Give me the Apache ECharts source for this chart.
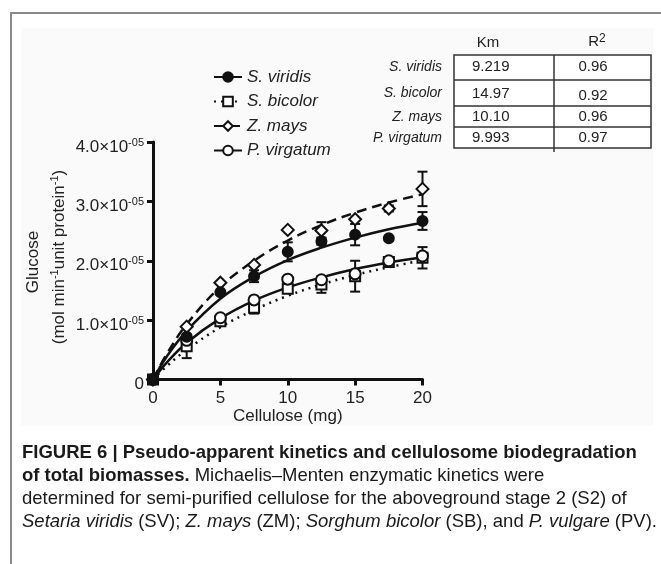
<!DOCTYPE html>
<html>
<head>
<meta charset="utf-8">
<script src="https://cdn.jsdelivr.net/npm/echarts@6/dist/echarts.min.js"></script>
<style>
html, body { margin: 0; padding: 0; background: #fff; }
#chart { width: 661px; height: 564px; }
</style>
</head>
<body>
<div id="chart"></div>
<script>
// glucose values are in units of 1e-5 (the axis labels add the x10^-05)
var FONT = 'Liberation Sans, Arial, sans-serif';
var names = ['S. viridis', 'S. bicolor', 'Z. mays', 'P. virgatum'];

// measured points
var cellulose = [0, 2.5, 5, 7.5, 10, 12.5, 15, 17.5, 20];
var svPts = [0, 0.72, 1.47, 1.74, 2.15, 2.33, 2.44, 2.38, 2.67];
var sbPts = [0, 0.56, 0.98, 1.21, 1.53, 1.60, 1.74, 1.98, 2.05];
var zmPts = [0, 0.89, 1.63, 1.93, 2.52, 2.51, 2.70, 2.88, 3.21];
var pvPts = [0, 0.66, 1.04, 1.34, 1.69, 1.68, 1.78, 2.00, 2.08];
var svErr = [0, 0, 0, 0.10, 0.16, 0.06, 0.18, 0, 0.15];
var sbErr = [0, 0.20, 0, 0.10, 0, 0.14, 0.26, 0, 0.18];
var zmErr = [0, 0, 0, 0, 0, 0.14, 0, 0.05, 0.29];
var pvErr = [0, 0, 0, 0, 0, 0, 0, 0, 0];

// fitted curves
var fitX = [0, 1, 2.5, 5, 7.5, 10, 12.5, 15, 17.5, 20];
var svFit = [0, 0.38, 0.82, 1.36, 1.73, 2.01, 2.22, 2.39, 2.53, 2.64];
var sbFit = [0, 0.22, 0.50, 0.88, 1.17, 1.41, 1.60, 1.76, 1.89, 2.01];
var zmFit = [0, 0.42, 0.93, 1.56, 2.00, 2.34, 2.60, 2.81, 2.98, 3.12];
var pvFit = [0, 0.28, 0.62, 1.03, 1.33, 1.55, 1.72, 1.86, 1.97, 2.06];

// inset table
var kmVals = ['9.219', '14.97', '10.10', '9.993'];
var r2Vals = ['0.96', '0.92', '0.96', '0.97'];

var myChart = echarts.init(document.getElementById('chart'));

function pairs(xs, ys) {
	var out = [];
	for (var i = 0; i < xs.length; i++) out.push([xs[i], ys[i]]);
	return out;
}
function errData(ys, es) {
	var out = [];
	for (var i = 0; i < ys.length; i++) {
		if (es[i] > 0) out.push([cellulose[i], ys[i] - es[i], ys[i] + es[i]]);
	}
	return out;
}
function errSeries(ys, es) {
	return {
		type: 'custom',
		silent: true,
		z: 3,
		encode: { x: 0, y: [1, 2] },
		data: errData(ys, es),
		renderItem: function(params, api) {
			var x = api.value(0);
			var p1 = api.coord([x, api.value(1)]);
			var p2 = api.coord([x, api.value(2)]);
			var w = 5;
			var st = { stroke: '#111', lineWidth: 2 };
			return {
				type: 'group',
				children: [
					{ type: 'line', shape: { x1: p1[0], y1: p1[1], x2: p2[0], y2: p2[1] }, style: st },
					{ type: 'line', shape: { x1: p1[0] - w, y1: p1[1], x2: p1[0] + w, y2: p1[1] }, style: st },
					{ type: 'line', shape: { x1: p2[0] - w, y1: p2[1], x2: p2[0] + w, y2: p2[1] }, style: st }
				]
			};
		}
	};
}
function fitSeries(name, ys, symbol, filled, dash) {
	return {
		name: name,
		type: 'line',
		smooth: 0.4,
		showSymbol: false,
		symbol: symbol,
		symbolSize: 10,
		z: 2,
		lineStyle: { color: '#111', width: 2.5, type: dash },
		itemStyle: { color: filled ? '#111' : '#fff', borderColor: '#111', borderWidth: 2 },
		data: pairs(fitX, ys)
	};
}
function ptSeries(name, ys, symbol, size, filled) {
	return {
		name: name + ' pts',
		type: 'scatter',
		symbol: symbol,
		symbolSize: size,
		z: 4,
		itemStyle: { color: filled ? '#111' : '#fff', borderColor: '#111', borderWidth: 2, opacity: 1 },
		data: pairs(cellulose, ys)
	};
}

// graphic: frame, background, axis name, inset table, caption
var graphics = [
	{ type: 'rect', z: -10, shape: { x: 21, y: 28, width: 632, height: 398 }, style: { fill: '#fafafa' } },
	{ type: 'rect', z: -9, shape: { x: 11, y: 13, width: 700, height: 600 }, style: { fill: null, stroke: '#8a8a8a', lineWidth: 2 } },
	{ type: 'text', x: 33, y: 262, rotation: Math.PI / 2,
		style: { text: 'Glucose', font: '17px ' + FONT, fill: '#222', align: 'center', verticalAlign: 'middle' } },
	{ type: 'text', x: 59, y: 257, rotation: Math.PI / 2,
		style: {
			text: '{a|(mol min}{s|-1}{a|unit protein}{s|-1}{a|)}',
			align: 'center', verticalAlign: 'middle', fill: '#222',
			rich: {
				a: { fontSize: 17, fontFamily: FONT, lineHeight: 20, fill: '#222' },
				s: { fontSize: 11, fontFamily: FONT, lineHeight: 11, verticalAlign: 'top', fill: '#222' }
			}
		} }
];

// inset table
var tTop = 55, tLeft = 454, tRight = 651, tDiv = 554;
var rowLines = [80, 106, 127];
var rowBottom = 148;
var rowY = [67, 93, 117, 138];
graphics.push({ type: 'rect', shape: { x: tLeft, y: tTop, width: tRight - tLeft, height: rowBottom - tTop }, style: { fill: '#fff', stroke: '#333', lineWidth: 1.5 } });
graphics.push({ type: 'line', shape: { x1: tDiv, y1: tTop, x2: tDiv, y2: rowBottom + 4 }, style: { stroke: '#333', lineWidth: 1.5 } });
for (var i = 0; i < rowLines.length; i++) {
	graphics.push({ type: 'line', shape: { x1: tLeft, y1: rowLines[i], x2: tRight, y2: rowLines[i] }, style: { stroke: '#333', lineWidth: 1.5 } });
}
graphics.push({ type: 'text', x: 488, y: 43, style: { text: 'Km', font: '15px ' + FONT, fill: '#222', align: 'center', verticalAlign: 'middle' } });
graphics.push({ type: 'text', x: 597, y: 42, style: {
	text: '{a|R}{s|2}', align: 'center', verticalAlign: 'middle',
	rich: {
		a: { fontSize: 15, fontFamily: FONT, lineHeight: 18, fill: '#222' },
		s: { fontSize: 12, fontFamily: FONT, lineHeight: 12, verticalAlign: 'top', fill: '#222' }
	} } });
for (var i = 0; i < names.length; i++) {
	graphics.push({ type: 'text', x: 442, y: rowY[i], style: { text: names[i], font: 'italic 14px ' + FONT, fill: '#222', align: 'right', verticalAlign: 'middle' } });
	graphics.push({ type: 'text', x: 472, y: rowY[i] + (i == 1 ? 1 : 0), style: { text: kmVals[i], font: '15px ' + FONT, fill: '#222', align: 'left', verticalAlign: 'middle' } });
	graphics.push({ type: 'text', x: 593, y: rowY[i] + (i == 1 ? 3 : 0), style: { text: r2Vals[i], font: '15px ' + FONT, fill: '#222', align: 'center', verticalAlign: 'middle' } });
}

// caption
var capRich = {
	b: { fontSize: 18.5, fontFamily: FONT, fontWeight: 'bold', fill: '#1a1a1a' },
	r: { fontSize: 18.5, fontFamily: FONT, fill: '#1a1a1a' },
	i: { fontSize: 18.5, fontFamily: FONT, fontStyle: 'italic', fill: '#1a1a1a' }
};
var capLines = [
	'{b|FIGURE 6 | Pseudo-apparent kinetics and cellulosome biodegradation}',
	'{b|of total biomasses.}{r| Michaelis\u2013Menten enzymatic kinetics were}',
	'{r|determined for semi-purified cellulose for the aboveground stage 2 (S2) of}',
	'{i|Setaria viridis}{r| (SV); }{i|Z. mays}{r| (ZM); }{i|Sorghum bicolor}{r| (SB), and }{i|P. vulgare}{r| (PV).}'
];
var capY = [453, 476, 499, 522];
for (var i = 0; i < capLines.length; i++) {
	graphics.push({ type: 'text', x: 22, y: capY[i], style: { text: capLines[i], rich: capRich, align: 'left', verticalAlign: 'middle' } });
}

var option = {
	backgroundColor: '#fff',
	animation: false,
	textStyle: { fontFamily: FONT },
	grid: { left: 153, right: 238.5, top: 142, bottom: 184.5, outerBoundsMode: 'none' },
	legend: {
		data: names,
		orient: 'vertical',
		left: 208,
		top: 62,
		itemWidth: 28,
		itemHeight: 12,
		itemGap: 4.5,
		selectedMode: false,
		textStyle: { fontSize: 17, fontStyle: 'italic', color: '#222', lineHeight: 20 }
	},
	xAxis: {
		type: 'value',
		min: 0, max: 20, interval: 5,
		name: 'Cellulose (mg)',
		nameLocation: 'middle',
		nameGap: 28,
		nameTextStyle: { fontSize: 17, color: '#222' },
		axisLine: { lineStyle: { color: '#111', width: 3 } },
		axisTick: { length: 6, lineStyle: { color: '#111', width: 3 } },
		axisLabel: { fontSize: 17, color: '#222', margin: 10 },
		splitLine: { show: false }
	},
	yAxis: {
		type: 'value',
		min: 0, max: 4, interval: 1,
		axisLine: { show: true, lineStyle: { color: '#111', width: 3 } },
		axisTick: { show: true, length: 6, lineStyle: { color: '#111', width: 3 } },
		axisLabel: {
			margin: 9,
			padding: [10, 0, 0, 0],
			formatter: function(v) {
				if (v === 0) return '{z|0}';
				return '{a|' + v.toFixed(1) + '\u00d710}{s|-05}';
			},
			rich: {
				a: { fontSize: 17, lineHeight: 20, color: '#222' },
				s: { fontSize: 11, lineHeight: 11, verticalAlign: 'top', color: '#222' },
				z: { fontSize: 17, lineHeight: 20, color: '#222' }
			}
		},
		splitLine: { show: false }
	},
	graphic: graphics,
	series: [
		fitSeries(names[0], svFit, 'circle', true, 'solid'),
		fitSeries(names[1], sbFit, 'rect', false, [2, 5]),
		fitSeries(names[2], zmFit, 'diamond', false, [10, 6]),
		fitSeries(names[3], pvFit, 'circle', false, 'solid'),
		errSeries(svPts, svErr),
		errSeries(sbPts, sbErr),
		errSeries(zmPts, zmErr),
		errSeries(pvPts, pvErr),
		ptSeries(names[1], sbPts, 'rect', 10, false),
		ptSeries(names[3], pvPts, 'circle', 11, false),
		ptSeries(names[2], zmPts, 'diamond', 12, false),
		ptSeries(names[0], svPts, 'circle', 10, true)
	]
};
myChart.setOption(option);

window.onresize = function() {
	myChart.resize();
};
</script>
</body>
</html>
